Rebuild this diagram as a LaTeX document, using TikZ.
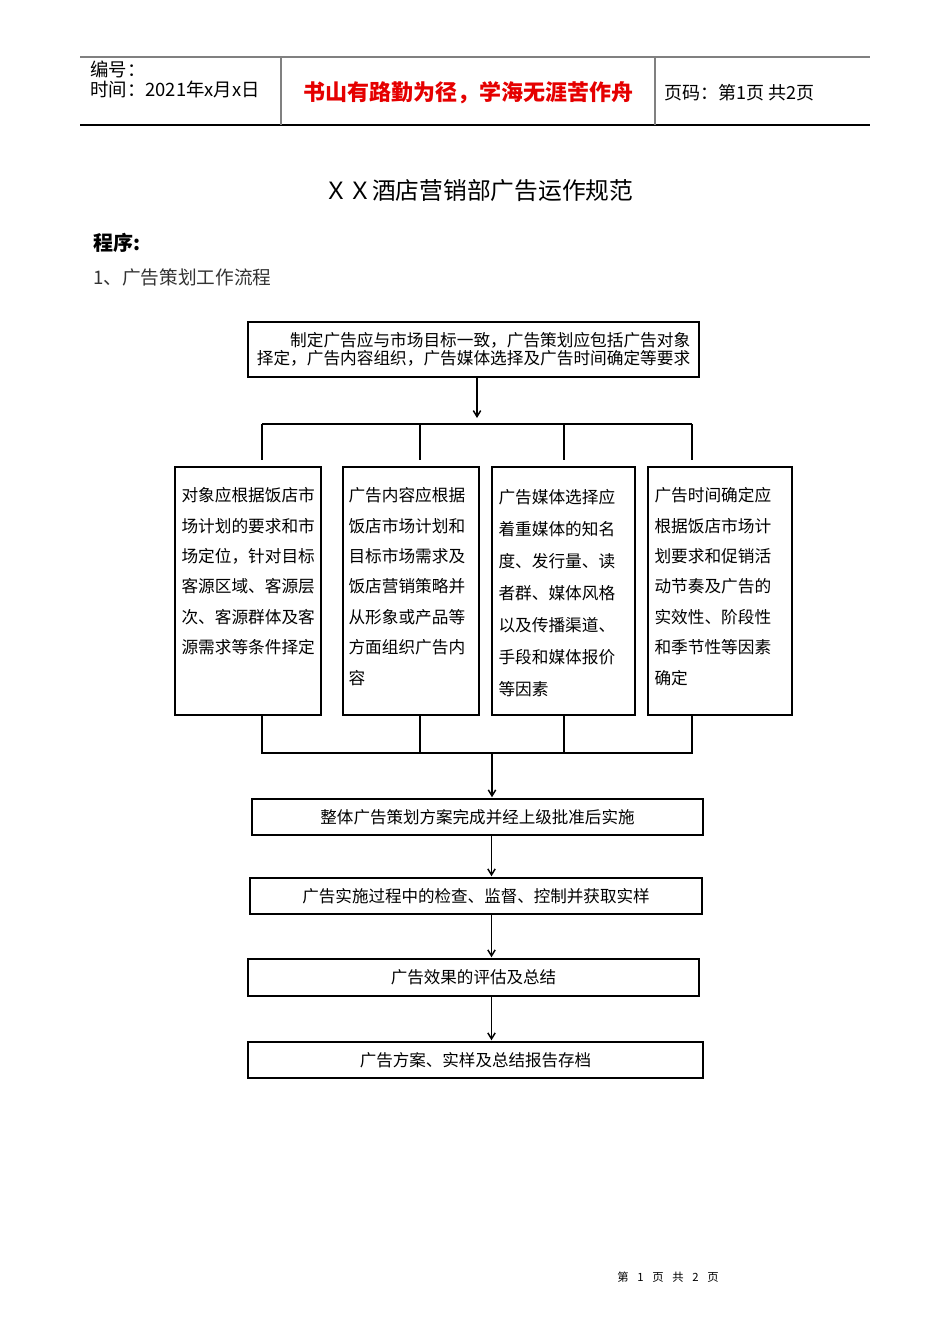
\documentclass[tikz,border=0pt]{standalone}
\usepackage{fontspec}
\setmainfont{Noto Sans CJK SC}
\usetikzlibrary{positioning,arrows.meta}
\newdimen\pxu
\pxu=0.75pt

\begin{document}
\begin{tikzpicture}[
    x=0.75pt,
    y=-0.75pt,
    box/.style={%
      draw,
      rectangle,
      line width=1.1pt,
      minimum height=36\pxu,
      inner sep=0pt,
      font=\fontsize{12.4}{14}\selectfont,
    },
    tallbox/.style={%
      box,
      minimum height=248\pxu,
    },
    boxtext/.style={%
      anchor=north west,
      align=left,
      inner sep=0pt,
      xshift=7\pxu,
      yshift=-21\pxu,
      font=\fontsize{12.5}{22.8}\selectfont,
    },
    hdr/.style={%
      anchor=west,
      inner sep=0pt,
      font=\fontsize{13.8}{16}\selectfont,
    },
    link/.style={line width=1.1pt},
    flow/.style={link, -{Straight Barb[length=4.5pt,width=5.5pt]}, shorten >=1\pxu},
  ]

    \useasboundingbox (0,0) rectangle (950,1344);

    \draw[gray, line width=0.8pt] (80,57) -- (870,57);
    \draw[line width=0.8pt] (80,125) -- (870,125);
    \draw[gray, line width=0.8pt] (281,57) -- (281,125);
    \draw[gray, line width=0.8pt] (655,57) -- (655,125);

    \node [hdr] (num) at (90,69) {编号：};
    \node [hdr] (date) at (90,89) {时间：2021年x月x日};
    \node [font=\fontsize{16.5}{18}\bfseries, text=red!90!black, inner sep=0pt] (motto) at (468,93) {书山有路勤为径，学海无涯苦作舟};
    \node [hdr, font=\fontsize{13.5}{16}\selectfont] (page) at (664,93) {页码：第1页 共2页};

    \node [font=\fontsize{17.8}{20}\selectfont, inner sep=0pt] (title) at (479,191) {ＸＸ酒店营销部广告运作规范};
    \node [hdr, font=\fontsize{15}{17}\bfseries] (prog) at (93,243) {程序:};
    \node [hdr, font=\fontsize{14}{16}\selectfont, text=black!80] (step1) at (93,277) {1、广告策划工作流程};

    \node [box, minimum width=451\pxu, minimum height=55\pxu, align=left,
      font=\fontsize{12.5}{13.5}\selectfont] (req) at (473.5,349.5)
      {\hspace*{2em}制定广告应与市场目标一致，广告策划应包括广告对象\\择定，广告内容组织，广告媒体选择及广告时间确定等要求};

    \node [tallbox, minimum width=146\pxu,
      label={[boxtext]north west:{对象应根据饭店市\\场计划的要求和市\\场定位，针对目标\\客源区域、客源层\\次、客源群体及客\\源需求等条件择定}}] (B1) at (248,591) {};
    \node [tallbox, minimum width=136\pxu,
      label={[boxtext, xshift=-1\pxu]north west:{广告内容应根据\\饭店市场计划和\\目标市场需求及\\饭店营销策略并\\从形象或产品等\\方面组织广告内\\容}}] (B2) at (411,591) {};
    \node [tallbox, minimum width=143\pxu,
      label={[boxtext, yshift=-2\pxu, font=\fontsize{12.5}{24}\selectfont]north west:{广告媒体选择应\\着重媒体的知名\\度、发行量、读\\者群、媒体风格\\以及传播渠道、\\手段和媒体报价\\等因素}}] (B3) at (563.5,591) {};
    \node [tallbox, minimum width=144\pxu,
      label={[boxtext]north west:{广告时间确定应\\根据饭店市场计\\划要求和促销活\\动节奏及广告的\\实效性、阶段性\\和季节性等因素\\确定}}] (B4) at (720,591) {};

    \node [box, minimum width=451\pxu] (S1) at (477.5,817) {整体广告策划方案完成并经上级批准后实施};
    \node [box, minimum width=452\pxu] (S2) at (476,896) {广告实施过程中的检查、监督、控制并获取实样};
    \node [box, minimum width=451\pxu, minimum height=37\pxu] (S3) at (473.5,977.5) {广告效果的评估及总结};
    \node [box, minimum width=455\pxu] (S4) at (475.5,1060) {广告方案、实样及总结报告存档};

    \node [font=\fontsize{8.5}{10}\selectfont, inner sep=0pt] (foot) at (668,1277)
      {第\hspace{6.5pt}1\hspace{6.5pt}页\hspace{6.5pt}共\hspace{6.5pt}2\hspace{6.5pt}页};

    \coordinate (top) at (477,424);
    \coordinate (mid) at (492,753);
    \coordinate (ax) at (491.5,0);
    \coordinate (d1) at (262,0);
    \coordinate (d2) at (420,0);
    \coordinate (d3) at (564,0);
    \coordinate (d4) at (692,0);

    \draw [flow, shorten >=6\pxu] (req.south -| top) -- (top);
    \draw [link] (d1 |- top) -- (d4 |- top);
    \foreach \d/\b in {d1/B1,d2/B2,d3/B3,d4/B4} {
      \draw [link, shorten >=6\pxu] (\d |- top) -- (\d |- \b.north);
      \draw [link] (\d |- \b.south) -- ([yshift=-1\pxu]\d |- mid);
    }
    \draw [link] (d1 |- mid) -- (d4 |- mid);

    \draw [flow] (mid) -- (mid |- S1.north);
    \draw [flow] (S1.south -| ax) -- (S2.north -| ax);
    \draw [flow] (S2.south -| ax) -- (S3.north -| ax);
    \draw [flow] (S3.south -| ax) -- (S4.north -| ax);
\end{tikzpicture}
\end{document}
